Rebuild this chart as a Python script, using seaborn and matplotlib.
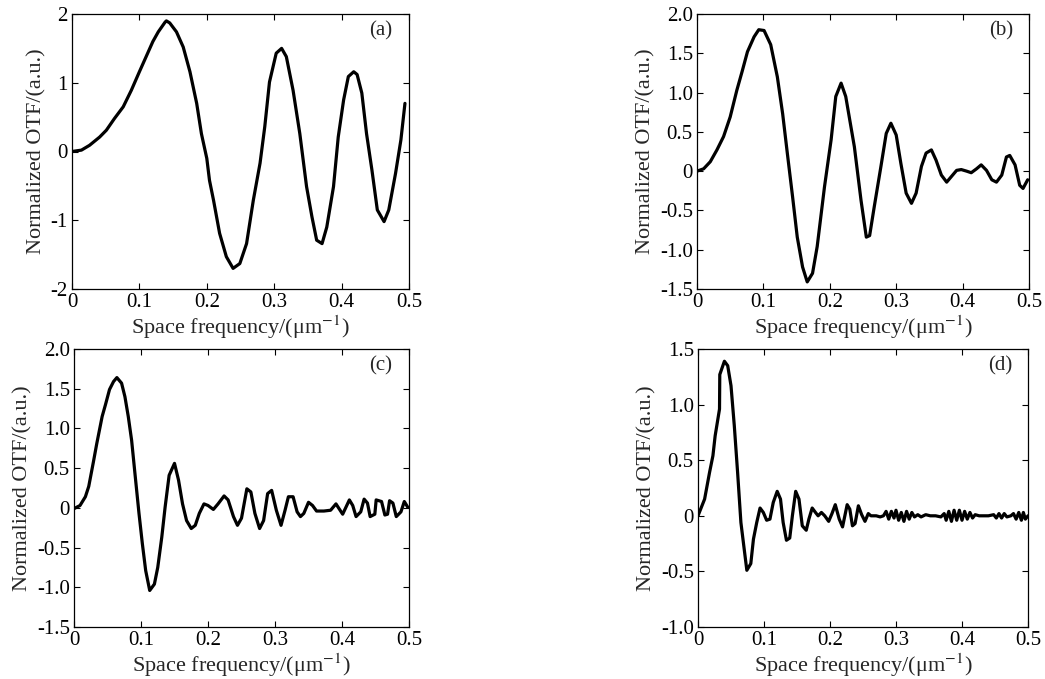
import numpy as np
import pandas as pd
import matplotlib
matplotlib.use("Agg")
import matplotlib.pyplot as plt
import seaborn as sns

# ──────────────────────────────────────────────
# Data
# ──────────────────────────────────────────────
freq_a = [0, 0.014, 0.026, 0.041, 0.051, 0.063, 0.076, 0.088, 0.100, 0.110,
          0.120, 0.128, 0.138, 0.140, 0.145, 0.155, 0.165, 0.175, 0.185, 0.192,
          0.200, 0.204, 0.210, 0.219, 0.229, 0.239, 0.249, 0.259, 0.269, 0.279,
          0.286, 0.293, 0.303, 0.311, 0.318, 0.328, 0.338, 0.348, 0.356, 0.363,
          0.371, 0.378, 0.388, 0.395, 0.403, 0.410, 0.418, 0.423, 0.430, 0.437,
          0.445, 0.453, 0.463, 0.470, 0.480, 0.488, 0.494]
otf_a = [0, 0.02, 0.09, 0.21, 0.31, 0.48, 0.65, 0.89, 1.16, 1.38,
         1.60, 1.74, 1.88, 1.90, 1.87, 1.74, 1.52, 1.16, 0.70, 0.26,
         -0.10, -0.42, -0.71, -1.19, -1.53, -1.70, -1.63, -1.34, -0.71, -0.17,
         0.36, 1.01, 1.43, 1.50, 1.38, 0.89, 0.26, -0.51, -0.95, -1.29,
         -1.34, -1.10, -0.51, 0.21, 0.75, 1.09, 1.16, 1.12, 0.85, 0.26,
         -0.27, -0.85, -1.02, -0.85, -0.32, 0.17, 0.70]

freq_b = [0, 0.010, 0.020, 0.030, 0.040, 0.050, 0.060, 0.068, 0.076, 0.086,
          0.093, 0.101, 0.111, 0.121, 0.129, 0.136, 0.144, 0.151, 0.159, 0.166,
          0.174, 0.181, 0.192, 0.202, 0.209, 0.217, 0.224, 0.237, 0.247, 0.255,
          0.260, 0.267, 0.277, 0.285, 0.292, 0.300, 0.307, 0.315, 0.323, 0.330,
          0.338, 0.345, 0.353, 0.360, 0.368, 0.376, 0.383, 0.391, 0.398, 0.406,
          0.413, 0.421, 0.428, 0.436, 0.444, 0.451, 0.459, 0.466, 0.471, 0.479,
          0.486, 0.491, 0.498]
otf_b = [0, 0.03, 0.12, 0.27, 0.44, 0.69, 1.03, 1.27, 1.52, 1.71,
         1.80, 1.79, 1.61, 1.20, 0.73, 0.23, -0.33, -0.84, -1.22, -1.41,
         -1.30, -0.96, -0.20, 0.40, 0.95, 1.12, 0.95, 0.31, -0.37, -0.84,
         -0.82, -0.45, 0.06, 0.48, 0.61, 0.46, 0.10, -0.28, -0.41, -0.28,
         0.06, 0.23, 0.27, 0.14, -0.05, -0.14, -0.07, 0.01, 0.02, 0.00,
         -0.02, 0.03, 0.08, 0.01, -0.11, -0.14, -0.05, 0.18, 0.20, 0.08,
         -0.18, -0.22, -0.11]

freq_c = [0, 0.009, 0.017, 0.022, 0.029, 0.034, 0.042, 0.047, 0.053, 0.059,
          0.064, 0.071, 0.076, 0.081, 0.086, 0.091, 0.097, 0.102, 0.107, 0.113,
          0.120, 0.125, 0.131, 0.136, 0.142, 0.150, 0.156, 0.162, 0.168, 0.175,
          0.181, 0.187, 0.194, 0.200, 0.208, 0.215, 0.224, 0.230, 0.238, 0.244,
          0.250, 0.258, 0.264, 0.270, 0.277, 0.283, 0.289, 0.295, 0.302, 0.309,
          0.315, 0.320, 0.327, 0.333, 0.338, 0.343, 0.350, 0.356, 0.362, 0.373,
          0.383, 0.391, 0.401, 0.411, 0.416, 0.421, 0.428, 0.433, 0.438, 0.442,
          0.449, 0.451, 0.459, 0.464, 0.468, 0.471, 0.476, 0.481, 0.488, 0.493,
          0.498]
otf_c = [-0.01, 0.03, 0.14, 0.27, 0.58, 0.81, 1.15, 1.30, 1.49, 1.59,
         1.64, 1.57, 1.40, 1.15, 0.85, 0.43, -0.07, -0.45, -0.79, -1.04,
         -0.96, -0.75, -0.37, 0.01, 0.41, 0.56, 0.35, 0.05, -0.16, -0.26,
         -0.22, -0.07, 0.05, 0.03, -0.02, 0.05, 0.15, 0.10, -0.11, -0.22,
         -0.13, 0.24, 0.20, -0.07, -0.26, -0.16, 0.18, 0.22, -0.03, -0.22,
         -0.03, 0.14, 0.14, -0.05, -0.11, -0.07, 0.07, 0.03, -0.04, -0.04,
         -0.03, 0.05, -0.08, 0.10, 0.03, -0.11, -0.05, 0.11, 0.06, -0.11,
         -0.08, 0.10, 0.08, -0.09, -0.08, 0.09, 0.06, -0.11, -0.05, 0.08,
         0.01]

freq_d = [0, 0.010, 0.0175, 0.0226, 0.026, 0.0326, 0.033, 0.040, 0.045, 0.050,
          0.055, 0.060, 0.065, 0.070, 0.074, 0.080, 0.084, 0.089, 0.094, 0.099,
          0.104, 0.109, 0.114, 0.120, 0.125, 0.129, 0.134, 0.139, 0.143, 0.148,
          0.153, 0.158, 0.164, 0.168, 0.173, 0.178, 0.182, 0.187, 0.192, 0.198,
          0.203, 0.208, 0.214, 0.219, 0.226, 0.230, 0.234, 0.238, 0.243, 0.248,
          0.253, 0.258, 0.262, 0.270, 0.276, 0.281, 0.285, 0.289, 0.293, 0.297,
          0.300, 0.304, 0.308, 0.312, 0.316, 0.320, 0.324, 0.328, 0.333, 0.338,
          0.345, 0.352, 0.360, 0.368, 0.373, 0.376, 0.380, 0.384, 0.388, 0.392,
          0.396, 0.400, 0.404, 0.408, 0.412, 0.416, 0.420, 0.426, 0.432, 0.440,
          0.448, 0.452, 0.456, 0.460, 0.464, 0.468, 0.474, 0.478, 0.482, 0.486,
          0.490, 0.493, 0.496, 0.500]
otf_d = [0, 0.15, 0.39, 0.54, 0.72, 0.96, 1.27, 1.39, 1.35, 1.17,
         0.81, 0.39, -0.06, -0.30, -0.49, -0.43, -0.21, -0.06, 0.07, 0.03,
         -0.04, -0.03, 0.12, 0.22, 0.15, -0.06, -0.22, -0.20, 0.00, 0.22,
         0.15, -0.09, -0.13, -0.03, 0.07, 0.03, 0.00, 0.03, 0.00, -0.05,
         0.02, 0.10, -0.03, -0.10, 0.10, 0.06, -0.09, -0.07, 0.09, 0.01,
         -0.05, 0.02, 0.00, 0.00, -0.01, 0.00, 0.04, -0.03, 0.04, -0.02,
         0.05, -0.04, 0.03, -0.05, 0.04, -0.03, 0.03, -0.01, 0.01, -0.01,
         0.01, 0.00, 0.00, -0.01, 0.02, -0.04, 0.04, -0.05, 0.05, -0.04,
         0.05, -0.04, 0.04, -0.03, 0.03, -0.02, 0.01, 0.00, 0.00, 0.00,
         0.01, -0.02, 0.02, -0.02, 0.02, -0.01, 0.00, 0.02, -0.03, 0.03,
         -0.04, 0.03, -0.03, 0.00]

panel_tags = ["(a)", "(b)", "(c)", "(d)"]
y_ticks = [
    [-2, -1, 0, 1, 2],
    [-1.5, -1.0, -0.5, 0, 0.5, 1.0, 1.5, 2.0],
    [-1.5, -1.0, -0.5, 0, 0.5, 1.0, 1.5, 2.0],
    [-1.0, -0.5, 0, 0.5, 1.0, 1.5],
]
y_ticklabels = [
    ["-2", "-1", "0", "1", "2"],
    ["-1.5", "-1.0", "-0.5", "0", "0.5", "1.0", "1.5", "2.0"],
    ["-1.5", "-1.0", "-0.5", "0", "0.5", "1.0", "1.5", "2.0"],
    ["-1.0", "-0.5", "0", "0.5", "1.0", "1.5"],
]
x_ticks = [0, 0.1, 0.2, 0.3, 0.4, 0.5]
x_ticklabels = ["0", "0.1", "0.2", "0.3", "0.4", "0.5"]

# ──────────────────────────────────────────────
# Style
# ──────────────────────────────────────────────
sns.set_theme(style="ticks")
plt.rcParams["font.family"] = ["Liberation Serif", "DejaVu Serif"]
plt.rcParams["mathtext.fontset"] = "stix"
plt.rcParams["axes.unicode_minus"] = False

W, H = 1045, 679
fig = plt.figure(figsize=(W / 100, H / 100), dpi=100)

# axes boxes in pixels: left, right, top, bottom
boxes = [
    (72, 409, 14, 289),
    (697, 1029, 14, 289),
    (74, 409, 349, 627),
    (698, 1028, 349, 627),
]

curves = [(freq_a, otf_a), (freq_b, otf_b), (freq_c, otf_c), (freq_d, otf_d)]

for i, ((x, y), (l, r, t, b)) in enumerate(zip(curves, boxes)):
    ax = fig.add_axes([l / W, 1 - b / H, (r - l) / W, (b - t) / H])
    df = pd.DataFrame({"freq": x, "otf": y})
    sns.lineplot(data=df, x="freq", y="otf", ax=ax, color="black",
                 linewidth=2.3, sort=False)

    ax.set_xlim(0, 0.5)
    ax.set_ylim(y_ticks[i][0], y_ticks[i][-1])
    ax.set_xticks(x_ticks)
    ax.set_xticklabels(x_ticklabels)
    ax.set_yticks(y_ticks[i])
    ax.set_yticklabels(y_ticklabels[i])
    ax.tick_params(direction="in", length=4, width=0.8, labelsize=15,
                   top=True, right=True, pad=3, colors="black")
    for sp in ax.spines.values():
        sp.set_linewidth(0.9)
        sp.set_color("black")

    ax.set_xlabel("Space frequency/(μm$^{-1}$)", fontsize=16, labelpad=1)
    ax.set_ylabel("Normalized OTF/(a.u.)", fontsize=16, labelpad=3)
    ax.text(0.915, 0.94, panel_tags[i], transform=ax.transAxes,
            ha="center", va="center", fontsize=15)

fig.savefig("out.png", dpi=100)
